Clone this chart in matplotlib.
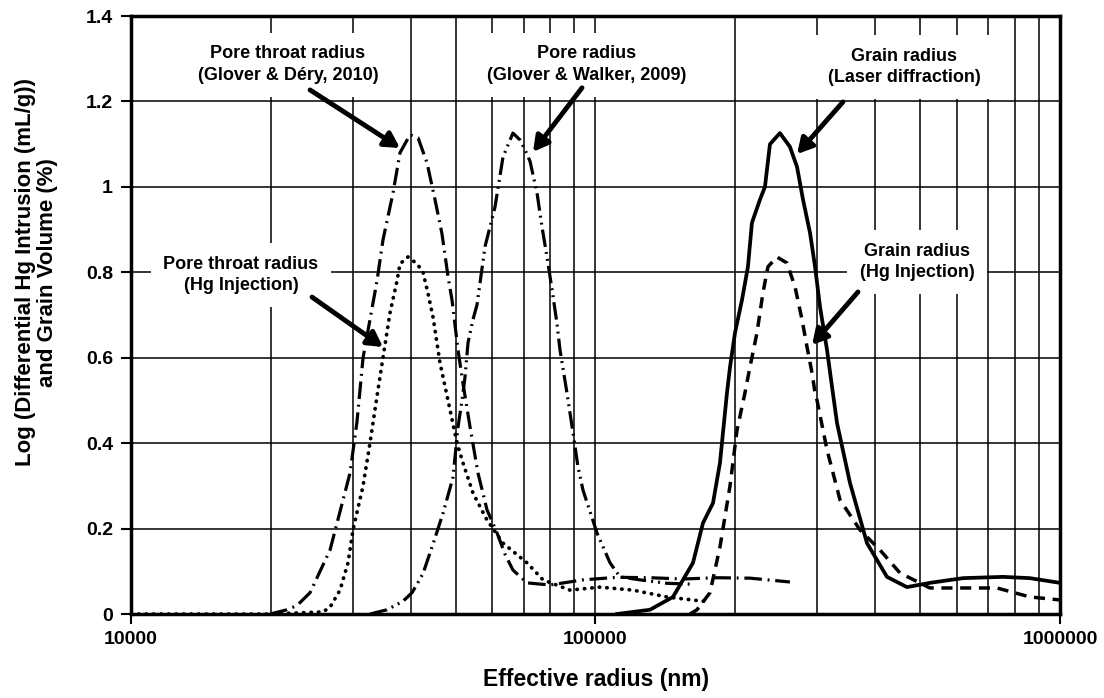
import numpy as np
import matplotlib
matplotlib.use('Agg')
from matplotlib import pyplot as plt
from matplotlib.ticker import LogLocator, FixedLocator, NullFormatter

plt.rcParams['font.family'] = ['Liberation Sans', 'DejaVu Sans']
plt.rcParams['font.weight'] = 'bold'

# pore throat radius, Glover & Dery 2010 (dash-dot)
dery_r = [19920, 21670, 22770, 24290, 25520, 26820, 28180, 29610, 30650, 31590,
          33850, 34870, 36650, 37940, 39870, 41490, 43380, 45130, 46720, 48140,
          49100, 50580, 51840, 53690, 55850, 58400, 61370, 63850, 66410, 71180,
          79800, 93990, 111250, 131000, 154310, 182650, 215040, 262160]
dery_v = [0.0, 0.01, 0.02, 0.05, 0.10, 0.15, 0.24, 0.33, 0.45, 0.60,
          0.78, 0.876, 0.986, 1.08, 1.122, 1.115, 1.056, 0.97, 0.89, 0.79,
          0.735, 0.618, 0.54, 0.438, 0.33, 0.244, 0.19, 0.14, 0.103, 0.073,
          0.068, 0.08, 0.086, 0.085, 0.082, 0.085, 0.084, 0.075]

# pore radius, Glover & Walker 2009 (dash-dot-dot)
walker_r = [32690, 35570, 38510, 40270, 41280, 42530, 45130, 46960, 49340, 50580,
            51590, 52370, 53150, 54490, 55580, 57820, 60760, 63220, 66410, 68770,
            70480, 72280, 74830, 76710, 78630, 80610, 82620, 83870, 86830, 89460,
            91700, 93990, 100740, 107450, 112890, 124670, 142540, 159750]
walker_v = [0.0, 0.01, 0.03, 0.05, 0.07, 0.095, 0.178, 0.236, 0.32, 0.438,
            0.5, 0.555, 0.635, 0.69, 0.724, 0.86, 0.953, 1.07, 1.126, 1.11,
            1.087, 1.06, 0.986, 0.906, 0.836, 0.76, 0.68, 0.618, 0.517, 0.424,
            0.344, 0.29, 0.19, 0.12, 0.087, 0.08, 0.072, 0.07]

# pore throat radius, Hg injection (dotted)
hgp_r = [10000, 19920, 25900, 26820, 28180, 29320, 30050, 31590, 32690, 33850,
         34870, 36100, 37380, 37940, 39480, 41280, 42530, 43600, 44690, 46260,
         48620, 50330, 51840, 54490, 58400, 63220, 71180, 77090, 88140, 102250,
         120400, 142540, 176400]
hgp_v = [0.0, 0.0, 0.005, 0.016, 0.056, 0.12, 0.197, 0.3, 0.4, 0.51,
         0.6, 0.705, 0.78, 0.82, 0.836, 0.82, 0.8, 0.75, 0.695, 0.588,
         0.478, 0.4, 0.354, 0.283, 0.22, 0.166, 0.12, 0.08, 0.056, 0.063,
         0.056, 0.04, 0.028]

# grain radius, laser diffraction (solid)
laser_r = [111250, 131000, 146840, 162160, 170370, 179060, 185350, 191910, 194800, 199670,
           206700, 212920, 217180, 225970, 231650, 237470, 249480, 262160, 271580, 279790,
           289690, 296970, 304390, 315160, 323060, 331170, 353110, 384180, 424240, 468390,
           524960, 618200, 753800, 861700, 1000000]
laser_v = [0.0, 0.01, 0.04, 0.12, 0.213, 0.26, 0.354, 0.518, 0.578, 0.658,
           0.735, 0.813, 0.916, 0.97, 1.0, 1.10, 1.126, 1.094, 1.047, 0.97,
           0.892, 0.813, 0.719, 0.618, 0.532, 0.447, 0.307, 0.166, 0.087, 0.063,
           0.073, 0.084, 0.087, 0.084, 0.073]

# grain radius, Hg injection (dashed)
hgg_r = [159750, 165410, 176400, 185350, 194800, 201660, 209810, 215040, 222650, 229370,
         235130, 245780, 258310, 268900, 278410, 285390, 292580, 296970, 299920, 315160,
         336160, 371040, 409740, 452470, 524960, 618200, 731700, 861700, 1000000]
hgg_v = [0.0, 0.01, 0.05, 0.157, 0.3, 0.43, 0.518, 0.578, 0.658, 0.752,
         0.813, 0.836, 0.822, 0.766, 0.689, 0.625, 0.564, 0.518, 0.5, 0.384,
         0.267, 0.197, 0.15, 0.096, 0.061, 0.061, 0.061, 0.04, 0.033]

# labels: text, text position, arrow tail, arrow head
labels = ['Pore throat radius\n(Glover & Déry, 2010)',
          'Pore radius\n(Glover & Walker, 2009)',
          'Grain radius\n(Laser diffraction)',
          'Pore throat radius\n(Hg Injection)',
          'Grain radius\n(Hg Injection)']
label_xy = [(21780, 1.286), (95880, 1.286), (461500, 1.281), (17250, 0.794), (492200, 0.824)]
arrow_from = [(24290, 1.227), (93530, 1.232), (341100, 1.199), (24530, 0.742), (367400, 0.754)]
arrow_to = [(37940, 1.091), (73360, 1.082), (271600, 1.077), (34870, 0.625), (292600, 0.630)]

fig = plt.figure(figsize=(11.04, 6.98), dpi=100)
ax = fig.add_axes([0.1187, 0.1203, 0.8414, 0.8567])

lw = 2.3
ax.plot(dery_r, dery_v, color='k', lw=lw, linestyle=(0, (5.5, 1.8, 0.6, 1.8)))
ax.plot(walker_r, walker_v, color='k', lw=lw, linestyle=(0, (5.5, 1.6, 0.6, 1.6, 0.6, 1.6)))
ax.plot(hgp_r, hgp_v, color='k', lw=2.7, linestyle=(0, (0.1, 1.9)), dash_capstyle='round')
ax.plot(laser_r, laser_v, color='k', lw=2.7, solid_joinstyle='round')
ax.plot(hgg_r, hgg_v, color='k', lw=2.5, linestyle=(0, (3.2, 2.2)))

ax.set_xscale('log')
ax.set_xlim(10000, 1000000)
ax.set_ylim(0, 1.4)
ax.xaxis.set_major_locator(FixedLocator([10000, 100000, 1000000]))
ax.xaxis.set_minor_locator(LogLocator(base=10, subs=np.arange(2, 10)))
ax.xaxis.set_minor_formatter(NullFormatter())
ax.set_xticklabels(['10000', '100000', '1000000'])
ax.set_yticks(np.arange(0, 1.41, 0.2))
ax.set_yticklabels(['%g' % round(v, 1) for v in np.arange(0, 1.41, 0.2)])

ax.grid(True, which='both', axis='x', color='k', lw=1.1, zorder=0)
ax.grid(True, which='major', axis='y', color='k', lw=1.1, zorder=0)
ax.set_axisbelow(True)
for s in ax.spines.values():
    s.set_linewidth(2.5)
ax.tick_params(axis='both', which='major', direction='out', length=7, width=1.5,
               labelsize=14, pad=6)
ax.tick_params(axis='x', which='major', pad=5)
ax.tick_params(axis='x', which='minor', length=0)

for t, xy, p0, p1 in zip(labels, label_xy, arrow_from, arrow_to):
    ax.text(xy[0], xy[1], t, ha='center', va='center', fontsize=13, fontweight='bold',
            linespacing=1.35, zorder=5,
            bbox=dict(boxstyle='square,pad=0.7', fc='white', ec='none'))
    ax.annotate('', xy=p1, xytext=p0, zorder=6,
                arrowprops=dict(arrowstyle='-|>,head_length=0.9,head_width=0.5',
                                lw=3.5, color='k', shrinkA=0, shrinkB=0))

fig.text(0.5395, 0.026, 'Effective radius (nm)', ha='center', va='center',
         fontsize=16.5, fontweight='bold')
fig.text(0.033, 0.61, 'Log (Differential Hg Intrusion (mL/g))\nand Grain Volume (%)',
         ha='center', va='center', rotation=90, fontsize=16, fontweight='bold',
         multialignment='center', linespacing=1.1)

fig.savefig('out.png', dpi=100)
